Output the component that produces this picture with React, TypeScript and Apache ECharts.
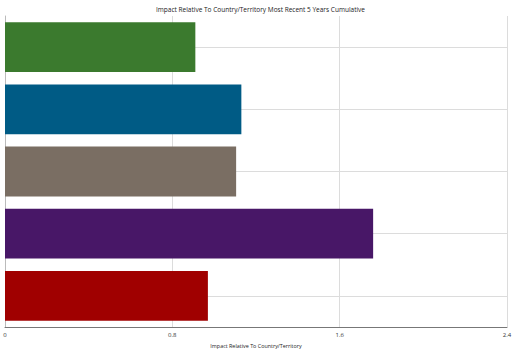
import React, { useEffect, useRef } from "react";
import * as echarts from "echarts";

const categories = ["A", "B", "C", "D", "E"];
const values = [0.91, 1.13, 1.105, 1.76, 0.97];
const colors = ["#3b7a2e", "#005b85", "#7a6e63", "#481767", "#a00000"];
const xTicks = [0, 0.8, 1.6, 2.4];

export default function App() {
  const ref = useRef<HTMLDivElement>(null);
  useEffect(() => {
    const chart = echarts.init(ref.current!, null, { renderer: "svg" });
    chart.setOption({
      animation: false,
      title: {
        text: "Impact Relative To Country/Territory Most Recent 5 Years Cumulative",
        left: "center",
        top: 3,
        padding: [3, 0, 0, 0],
        textStyle: { fontSize: 6.5, fontWeight: "normal", color: "#222", fontFamily: "Open Sans" },
      },
      grid: { left: 5, right: 14, top: 16, bottom: 35 },
      xAxis: {
        type: "value",
        min: 0,
        max: 2.4,
        interval: 0.8,
        name: "Impact Relative To Country/Territory",
        nameLocation: "middle",
        nameGap: 16,
        nameTextStyle: { fontSize: 5.4, color: "#222", fontFamily: "Open Sans" },
        axisLine: { show: true, lineStyle: { color: "#777", width: 1 } },
        axisTick: { show: false },
        axisLabel: {
          fontSize: 6,
          color: "#333",
          margin: 5,
          fontFamily: "Open Sans",
          formatter: (v: number) => (xTicks.includes(v) ? String(v) : ""),
        },
        splitLine: { show: true, lineStyle: { color: "#dcdcdc", width: 1 } },
      },
      yAxis: {
        type: "category",
        data: categories,
        inverse: true,
        axisLine: { show: true, lineStyle: { color: "#bbb", width: 1 } },
        axisTick: { show: false },
        axisLabel: { show: false },
        splitLine: { show: true, alignWithLabel: true, lineStyle: { color: "#dcdcdc", width: 1 } },
      },
      series: [
        {
          type: "bar",
          data: values.map((v, i) => ({ value: v, itemStyle: { color: colors[i] } })),
          barCategoryGap: "20%",
        },
      ],
    });
    return () => chart.dispose();
  }, []);
  return <div ref={ref} style={{ width: 521, height: 362, position: "absolute", left: 0, top: 0 }} />;
}
